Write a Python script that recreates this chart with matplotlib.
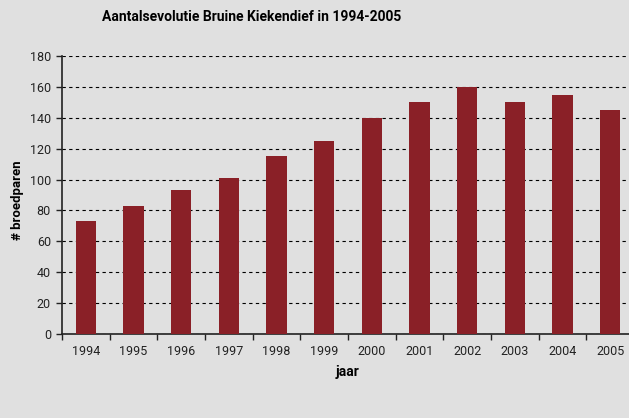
"""Aantalsevolutie Bruine Kiekendief 1994-2005."""
import matplotlib
matplotlib.use("Agg")
import matplotlib.pyplot as plt
import numpy as np

years = ["1994", "1995", "1996", "1997", "1998", "1999",
         "2000", "2001", "2002", "2003", "2004", "2005"]
pairs = [73, 83, 93, 101, 115, 125, 140, 150, 160, 150, 155, 145]
y_ticks = [0, 20, 40, 60, 80, 100, 120, 140, 160, 180]

bg = "#e0e0e0"
bar_color = "#8a2027"

plt.rcParams["font.family"] = ["Roboto", "DejaVu Sans"]

W, H = 629, 418
fig = plt.figure(figsize=(W / 100, H / 100), dpi=100, facecolor=bg)
# axes box in pixels: left 62, right 634 (runs past the edge), bottom 334, top 56
ax = fig.add_axes([62 / W, (H - 334) / H, (634 - 62) / W, (334 - 56) / H])
ax.set_facecolor(bg)

x = np.arange(len(years))
ax.bar(x, pairs, width=0.42, color=bar_color, zorder=3)

ax.set_xlim(-0.5, len(years) - 0.5)
ax.set_ylim(0, 180)
ax.set_yticks(y_ticks)
ax.yaxis.grid(True, linestyle=(0, (3, 3)), color="black", linewidth=0.8, zorder=1)

ax.set_xticks(x)
ax.set_xticklabels(years, fontsize=9, color="#222222")
ax.set_xticks(np.arange(-0.5, len(years) - 0.5, 1), minor=True)
ax.tick_params(axis="x", which="major", length=0, pad=8)
ax.tick_params(axis="x", which="minor", length=4, width=1, direction="out", color="#222222")
ax.tick_params(axis="y", length=4, width=1, direction="out", labelsize=9,
               colors="#222222", pad=4)

for side in ("top", "right"):
    ax.spines[side].set_visible(False)
for side in ("left", "bottom"):
    ax.spines[side].set_color("#222222")
    ax.spines[side].set_linewidth(1.2)

ax.set_ylabel("# broedparen", fontsize=9.5, fontweight="bold")
ax.yaxis.set_label_coords((24 - 62) / (634 - 62), (334 - 200) / (334 - 56))
ax.set_xlabel("jaar", fontsize=10, fontweight="bold")
ax.xaxis.set_label_coords((347 - 62) / (634 - 62), -0.11)

fig.text(102 / W, 1 - 17 / H, "Aantalsevolutie Bruine Kiekendief in 1994-2005",
         fontsize=10, fontweight="bold", va="center", ha="left")

fig.savefig("out.png", dpi=100, facecolor=bg)
